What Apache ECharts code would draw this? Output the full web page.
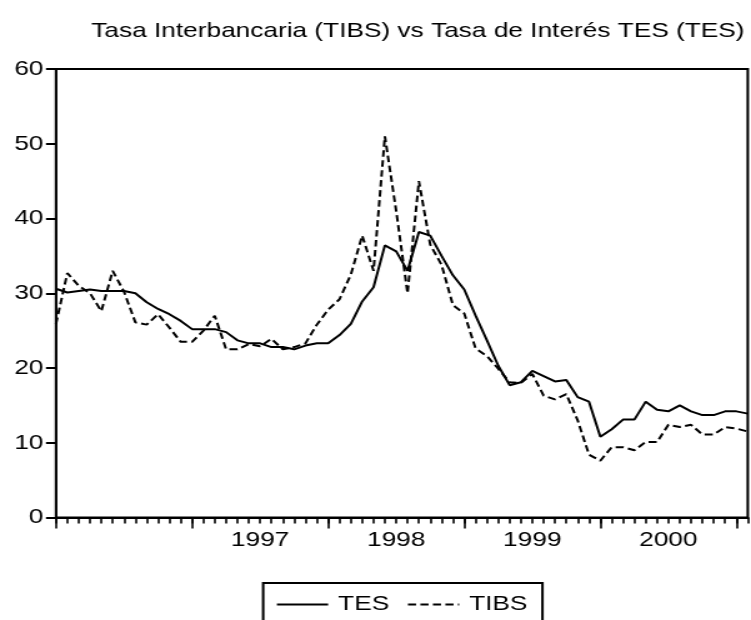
<!DOCTYPE html>
<html><head><meta charset="utf-8">
<script src="https://cdn.jsdelivr.net/npm/echarts@6/dist/echarts.min.js"></script>
<style>
html,body{margin:0;padding:0;background:#fff;overflow:hidden;width:751px;height:620px}
#c{width:601px;height:620px;transform:scaleX(1.2496);transform-origin:0 0;}
</style>
</head><body><div id="c"></div>
<script>
const periods = [
 '1996:01','1996:02','1996:03','1996:04','1996:05','1996:06','1996:07','1996:08','1996:09','1996:10','1996:11','1996:12',
 '1997:01','1997:02','1997:03','1997:04','1997:05','1997:06','1997:07','1997:08','1997:09','1997:10','1997:11','1997:12',
 '1998:01','1998:02','1998:03','1998:04','1998:05','1998:06','1998:07','1998:08','1998:09','1998:10','1998:11','1998:12',
 '1999:01','1999:02','1999:03','1999:04','1999:05','1999:06','1999:07','1999:08','1999:09','1999:10','1999:11','1999:12',
 '2000:01','2000:02','2000:03','2000:04','2000:05','2000:06','2000:07','2000:08','2000:09','2000:10','2000:11','2000:12',
 '2001:01','2001:02'
];
const tes = [
 30.6,30.1,30.3,30.5,30.3,30.3,30.3,30.0,28.8,27.9,27.2,26.3,
 25.2,25.2,25.2,24.8,23.7,23.3,23.3,22.8,22.8,22.5,23.0,23.3,
 23.3,24.4,25.9,28.9,30.8,36.4,35.6,33.0,38.2,37.7,35.0,32.4,
 30.5,27.0,23.7,20.3,17.7,18.1,19.6,18.9,18.2,18.4,16.1,15.5,
 10.8,11.8,13.1,13.1,15.5,14.4,14.2,15.0,14.2,13.7,13.7,14.2,
 14.2,13.9
];
const tibs = [
 25.9,32.7,31.0,30.0,27.6,33.0,30.2,26.1,25.8,27.2,25.4,23.5,
 23.5,25.0,27.0,22.5,22.5,23.2,22.9,23.9,22.5,22.8,23.3,25.8,
 27.8,29.2,32.5,37.7,33.0,51.0,41.0,30.0,45.0,36.5,33.8,28.4,
 27.3,22.6,21.6,19.9,18.1,18.0,19.2,16.3,15.8,16.5,13.0,8.4,
 7.6,9.4,9.4,9.0,10.1,10.1,12.4,12.1,12.4,11.1,11.1,12.1,
 11.9,11.5
];
const yearLabels = ['1997','1998','1999','2000'];
const seriesNames = ['TES','TIBS'];
const titleText = 'Tasa Interbancaria (TIBS) vs Tasa de Interés TES (TES)';

const FONT = 'Liberation Sans, Arial, Helvetica, sans-serif';
const chart = echarts.init(document.getElementById('c'), null, {renderer: 'canvas'});
chart.setOption({
  animation: false,
  backgroundColor: '#fff',
  title: {
    text: titleText, left: 73, top: 21, padding: 0,
    textStyle: {fontFamily: FONT, fontSize: 21, fontWeight: 'normal', color: '#000'}
  },
  legend: {
    data: seriesNames, left: 210.6, top: 583, orient: 'horizontal',
    padding: [11, 12, 30, 10], borderColor: '#000', borderWidth: 2,
    itemWidth: 41, itemHeight: 14, itemGap: 14,
    itemStyle: {opacity: 0},
    lineStyle: {opacity: 1},
    textStyle: {fontFamily: FONT, fontSize: 21, color: '#000', padding: [0, 0, 0, 3]}
  },
  grid: {left: 44.8, right: 2.6, top: 69, bottom: 102.5, show: true, borderColor: '#000', borderWidth: 2, backgroundColor: 'transparent'},
  xAxis: [{
    type: 'category', data: periods, boundaryGap: false, position: 'bottom',
    axisLine: {show: true, lineStyle: {color: '#000', width: 2}},
    axisTick: {show: true, interval: 0, length: 6, lineStyle: {color: '#000', width: 1.6}},
    axisLabel: {
      show: true, margin: 12, color: '#000', fontFamily: FONT, fontSize: 21,
      interval: function (idx, val) { return val.slice(5) === '07' && yearLabels.indexOf(val.slice(0, 4)) >= 0; },
      formatter: function (val) { return val.slice(0, 4); }
    },
    splitLine: {show: false}
  }, {
    type: 'category', data: periods, boundaryGap: false, position: 'bottom',
    axisLine: {show: false},
    axisTick: {show: true, length: 11, lineStyle: {color: '#000', width: 1.6},
      interval: function (idx, val) { return val.slice(5) === '01'; }},
    axisLabel: {show: false},
    splitLine: {show: false}
  }],
  yAxis: {
    type: 'value', min: 0, max: 60, interval: 10,
    axisLine: {show: true, lineStyle: {color: '#000', width: 1.6}},
    axisTick: {show: true, length: 8, lineStyle: {color: '#000', width: 2}},
    axisLabel: {margin: 10, color: '#000', fontFamily: FONT, fontSize: 21},
    splitLine: {show: false}
  },
  series: [{
    name: seriesNames[0], type: 'line', data: tes, xAxisIndex: 0, symbol: 'none',
    lineStyle: {color: '#000', width: 2, type: 'solid'}, itemStyle: {color: '#000'}
  }, {
    name: seriesNames[1], type: 'line', data: tibs, xAxisIndex: 0, symbol: 'none',
    lineStyle: {color: '#000', width: 2, type: [6.5, 3.5]}, itemStyle: {color: '#000'}
  }]
});
</script>
</body></html>
